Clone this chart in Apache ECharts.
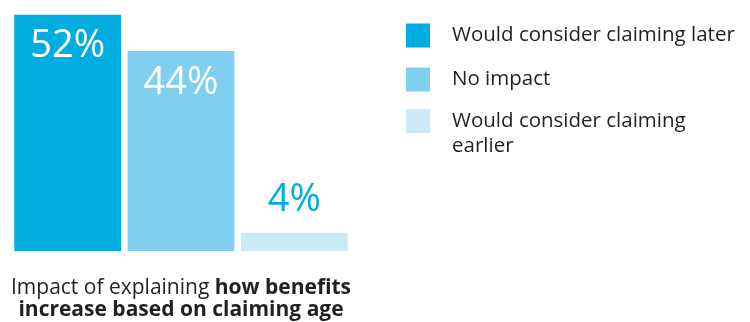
<!DOCTYPE html>
<html>
<head>
<meta charset="utf-8">
<script src="https://cdn.jsdelivr.net/npm/echarts@6/dist/echarts.min.js"></script>
<style>
  html, body { margin: 0; padding: 0; background: #fff; }
  #chart { width: 750px; height: 322px; }
</style>
</head>
<body>
<div id="chart"></div>
<script>
// Response categories and their shares (%)
const categories = ['Would consider claiming later', 'No impact', 'Would consider claiming earlier'];
const shares = [52, 44, 4];
const colors = ['#00ace0', '#80cfee', '#cce9f6'];
const captionPlain = 'Impact of explaining ';
const captionBold1 = 'how benefits';
const captionBold2 = 'increase based on claiming age';

const FONT = '"Open Sans", "Noto Sans", sans-serif';
const TEXT = '#231f20';

// One stacked series per category so each gets its own legend entry
const series = categories.map((name, i) => ({
  name: name,
  type: 'bar',
  stack: 'all',
  barCategoryGap: '5.8%',
  itemStyle: { color: colors[i] },
  data: categories.map((_, j) => (j === i ? shares[i] : null)),
  label: {
    show: true,
    position: i === 2 ? 'top' : 'insideTop',
    distance: i === 2 ? 14 : 13,
    formatter: '{c}%',
    fontFamily: FONT,
    fontSize: 38,
    color: i === 2 ? '#00ace0' : '#ffffff'
  }
}));

const legendText = { fontFamily: FONT, fontSize: 20.5, color: TEXT, lineHeight: 25, padding: [0, 0, 0, 17] };

const chart = echarts.init(document.getElementById('chart'), null, { renderer: 'canvas' });
chart.setOption({
  animation: false,
  backgroundColor: '#ffffff',
  grid: { left: 11, width: 340, top: 1, bottom: 71, containLabel: false },
  xAxis: {
    type: 'category',
    data: categories,
    axisLine: { show: false },
    axisTick: { show: false },
    axisLabel: { show: false }
  },
  yAxis: {
    type: 'value',
    min: 0,
    max: 55,
    show: false,
    splitLine: { show: false }
  },
  legend: [
    {
      orient: 'vertical',
      left: 406,
      top: 23,
      padding: 0,
      itemWidth: 24,
      itemHeight: 24,
      itemGap: 19,
      icon: 'rect',
      selectedMode: false,
      textStyle: legendText,
      data: [categories[0], categories[1]]
    },
    {
      // two-line entry: a leading empty line keeps the first text line level with the swatch
      orient: 'vertical',
      left: 406,
      top: 109 - 25.5,
      padding: 0,
      itemWidth: 24,
      itemHeight: 24,
      icon: 'rect',
      selectedMode: false,
      formatter: () => '\nWould consider claiming\nearlier',
      textStyle: legendText,
      data: [categories[2]]
    }
  ],
  title: {
    left: 181,
    top: 277,
    padding: 0,
    textAlign: 'center',
    text: '{n|' + captionPlain + '}{b|' + captionBold1 + '}\n{b|' + captionBold2 + '}',
    textStyle: {
      fontWeight: 'normal',
      rich: {
        n: { fontFamily: FONT, fontSize: 21, fontWeight: 'normal', color: TEXT, lineHeight: 22 },
        b: { fontFamily: FONT, fontSize: 21, fontWeight: 'bold', color: TEXT, lineHeight: 22 }
      }
    }
  },
  series: series
});
</script>
</body>
</html>
